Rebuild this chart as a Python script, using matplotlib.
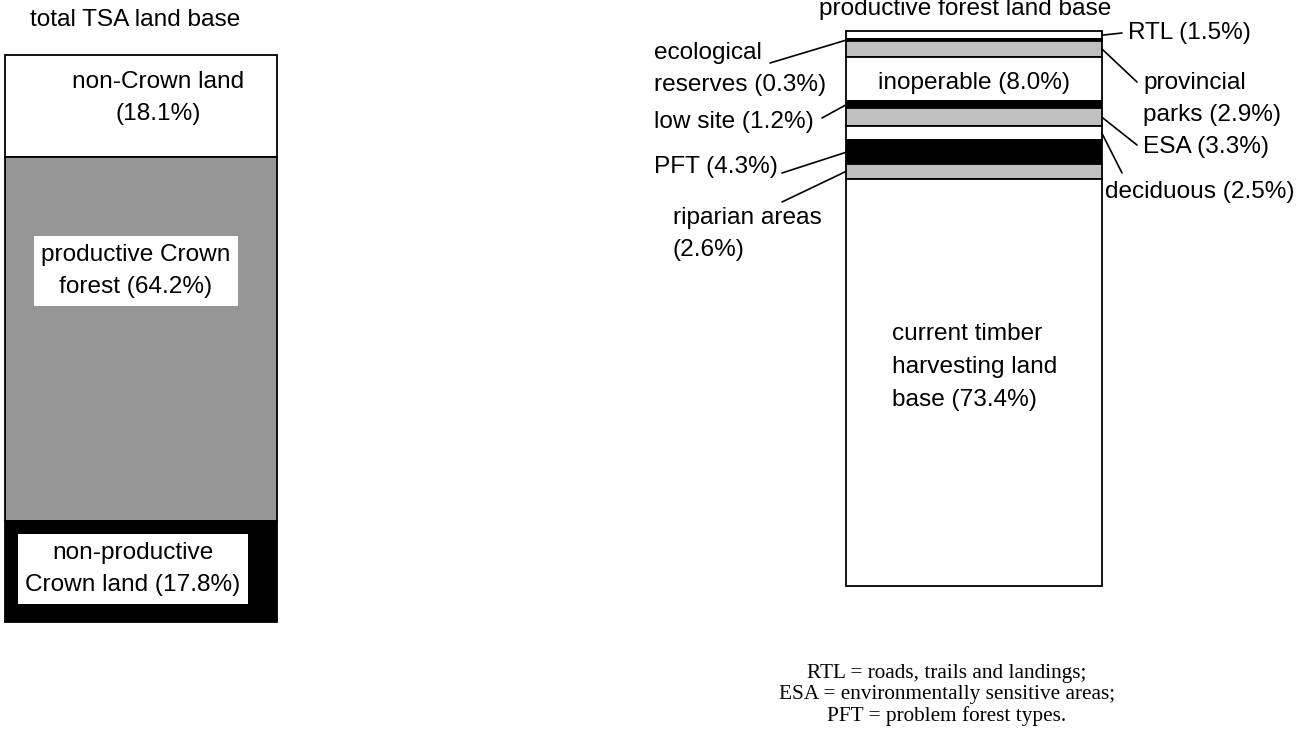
import matplotlib
matplotlib.use("Agg")
import matplotlib.pyplot as plt
import numpy as np

# total TSA land base (left bar), top to bottom
tsa_labels = ["non-Crown land\n(18.1%)", "productive Crown\nforest (64.2%)",
              "non-productive\nCrown land (17.8%)"]
tsa_share = [18.1, 64.2, 17.8]
tsa_colors = ["white", "#969696", "black"]

# productive forest land base (right bar), top to bottom
pflb_labels = ["RTL (1.5%)", "ecological\nreserves (0.3%)", "provincial\nparks (2.9%)",
               "inoperable (8.0%)", "low site (1.2%)", "ESA (3.3%)", "deciduous (2.5%)",
               "PFT (4.3%)", "riparian areas\n(2.6%)",
               "current timber\nharvesting land\nbase (73.4%)"]
pflb_share = [1.5, 0.3, 2.9, 8.0, 1.2, 3.3, 2.5, 4.3, 2.6, 73.4]
pflb_colors = ["white", "black", "#c0c0c0", "white", "black", "#c0c0c0",
               "white", "black", "#c0c0c0", "white"]

footnote = ("RTL = roads, trails and landings;\n"
            "ESA = environmentally sensitive areas;\n"
            "PFT = problem forest types.")

W, H = 1312, 734
FS = 17.6
LS = 1.62
plt.rcParams["font.family"] = ["Liberation Sans", "DejaVu Sans"]

fig = plt.figure(figsize=(W / 100, H / 100), dpi=100)


def bar_axes(x0, y0, x1, y1):
    a = fig.add_axes([x0 / W, 1 - y1 / H, (x1 - x0) / W, (y1 - y0) / H])
    a.set_xlim(0, 1)
    a.set_ylim(100, 0)
    a.axis("off")
    return a


def stack(a, share, colors):
    share = np.array(share)
    bottoms = np.cumsum(share) - share
    bars = a.bar(0.5, share, bottom=bottoms, width=1, color=colors,
                 edgecolor="black", linewidth=1.3)
    for p in bars:
        p.set_clip_on(False)
    return bottoms + share / 2


ax_l = bar_axes(5, 55, 277, 621)
ax_r = bar_axes(846, 31, 1102, 586)
stack(ax_l, tsa_share, tsa_colors)
mids = stack(ax_r, pflb_share, pflb_colors)

# overlay in pixel coordinates for texts and leaders
ax = fig.add_axes([0, 0, 1, 1])
ax.set_xlim(0, W)
ax.set_ylim(H, 0)
ax.axis("off")

ax.text(135, 20, "total TSA land base", ha="center", va="center", fontsize=FS)
ax.text(965, 15, "productive forest land base", ha="center", va="baseline", fontsize=FS)

box = dict(facecolor="white", edgecolor="none", boxstyle="square,pad=0.3")
tsa_pos = [(158, 98, None), (136, 271, box), (133, 569, box)]
for lab, (x, y, bb) in zip(tsa_labels, tsa_pos):
    ax.text(x, y, lab, ha="center", va="center", fontsize=FS, linespacing=LS, bbox=bb)

# text x, text y, alignment, side of bar, leader tail
pflb_pos = [
    (1128, 33, "left", 1, (1122, 33)),
    (654, 69, "left", 0, (770, 63)),
    (1143, 99, "left", 1, (1137, 82)),
    (974, 83, "center", None, None),
    (654, 122, "left", 0, (822, 118)),
    (1143, 147, "left", 1, (1137, 145)),
    (1105, 192, "left", 1, (1122, 173)),
    (654, 167, "left", 0, (782, 173)),
    (673, 234, "left", 0, (782, 202)),
    (892, 367, "left", None, None),
]
for lab, m, (x, y, ha, side, tail) in zip(pflb_labels, mids, pflb_pos):
    ax.text(x, y, lab, ha=ha, va="center", fontsize=FS, linespacing=LS)
    if tail is not None:
        ax.annotate("", xy=(side, m), xycoords=ax_r.transData,
                    xytext=tail, textcoords=ax.transData,
                    arrowprops=dict(arrowstyle="-", lw=1.2, color="black",
                                    shrinkA=0, shrinkB=0))

ax.text(947, 695, footnote, ha="center", va="center", fontsize=15.3,
        family=["Liberation Serif", "DejaVu Serif"], linespacing=1.15)

fig.savefig("out.png", dpi=100)
